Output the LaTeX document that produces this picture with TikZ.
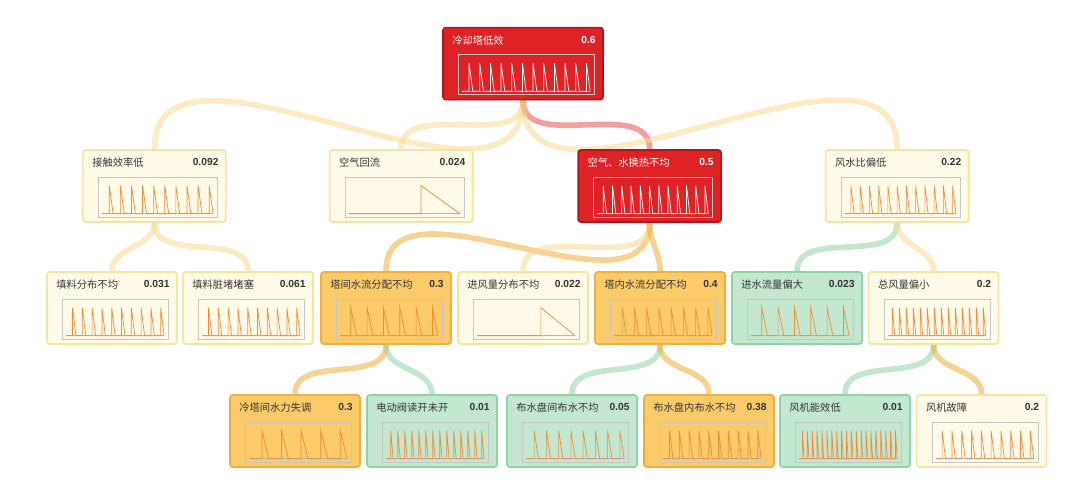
\documentclass[tikz,border=0pt]{standalone}
\usepackage{fontspec}
\setmainfont{Liberation Sans}
\newfontfamily\cjk{Noto Sans CJK SC}
\usetikzlibrary{calc,backgrounds}
\definecolor{hotred}{HTML}{DE2226}
\definecolor{hotline}{HTML}{B5121B}
\definecolor{warmfill}{HTML}{FBCB6A}
\definecolor{warmline}{HTML}{F1AE3A}
\definecolor{palefill}{HTML}{FFFBE8}
\definecolor{paleline}{HTML}{F8E3A0}
\definecolor{coolfill}{HTML}{C3E8CF}
\definecolor{coolline}{HTML}{8FD2A5}
\definecolor{sparkline}{HTML}{EE8A3C}
\tikzset{
    card/.style={
           rectangle, rounded corners=2pt,
           line width=1.2pt,
           minimum height=1.8cm,
           inner sep=0pt},
    hot/.style={card, fill=hotred, draw=hotline},
    warm/.style={card, fill=warmfill, draw=warmline},
    pale/.style={card, fill=palefill, draw=paleline},
    cool/.style={card, fill=coolfill, draw=coolline},
    ttl/.style={inner sep=0pt, font=\fontsize{7.3}{9}\selectfont},
    axis/.style={draw=gray!45, line width=0.3pt},
    link/.style={line width=4pt, line cap=round, opacity=0.55},
}
\def\whitename{white}
% one card: name, style, x, y, width, title, value, teeth, colour
\newcommand\card[9]{%
    \node[#2, minimum width=#5cm] (#1) at (#3,#4) {};
    \node[ttl, anchor=north west, text=#9] (#1-t) at ($(#1.north west)+(0.25,-0.22)$) {\cjk #6};
    \node[ttl, anchor=north east, text=#9] (#1-v) at ($(#1.north east)+(-0.2,-0.22)$) {\bfseries #7};
    \def\txtname{#9}%
    \ifx\txtname\whitename\def\sparkcol{white}\else\def\sparkcol{sparkline}\fi
    \begin{scope}[shift={($(#1.south west)+(0.4,0.15)$)}]
        \draw[axis] (0,0) rectangle (#5-0.6,1.0);
        \pgfmathsetmacro\dx{(#5-0.8)/#8}
        \draw[gray!60, line width=0.4pt] (0.1,0.08) -- (#5-0.7,0.08);
        \draw[\sparkcol, line width=0.5pt] (0.1,0.08)
            \foreach \i in {1,...,#8}{ -- ++(\dx*0.65,0) -- ++(0,0.7) -- ++(\dx*0.35,-0.7)};
    \end{scope}}

\begin{document}
\begin{tikzpicture}
    \useasboundingbox (0,0) rectangle (27,-11.975);

    % root
    \card{root}{hot}{13.075}{-1.59}{4}{冷却塔低效}{0.6}{12}{white}

    % first level
    \card{contact}{pale}{3.86}{-4.65}{3.575}{接触效率低}{0.092}{10}{black!80}
    \card{backflow}{pale}{10.03}{-4.65}{3.575}{空气回流}{0.024}{1}{black!80}
    \card{exchange}{hot}{16.24}{-4.65}{3.575}{空气、水换热不均}{0.5}{12}{white}
    \card{ratio}{pale}{22.43}{-4.65}{3.575}{风水比偏低}{0.22}{12}{black!80}

    % second level
    \card{fill}{pale}{2.8}{-7.7}{3.25}{填料分布不均}{0.031}{10}{black!80}
    \card{clog}{pale}{6.2}{-7.7}{3.25}{填料脏堵堵塞}{0.061}{10}{black!80}
    \card{between}{warm}{9.65}{-7.7}{3.25}{塔间水流分配不均}{0.3}{6}{black!80}
    \card{inlet}{pale}{13.075}{-7.7}{3.25}{进风量分布不均}{0.022}{1}{black!80}
    \card{within}{warm}{16.5}{-7.7}{3.25}{塔内水流分配不均}{0.4}{8}{black!80}
    \card{inflow}{cool}{19.925}{-7.7}{3.25}{进水流量偏大}{0.023}{6}{black!80}
    \card{airflow}{pale}{23.34}{-7.7}{3.25}{总风量偏小}{0.2}{14}{black!80}

    % third level
    \card{hydraulic}{warm}{7.375}{-10.775}{3.25}{冷塔间水力失调}{0.3}{5}{black!80}
    \card{valve}{cool}{10.8}{-10.775}{3.25}{电动阀读开未开}{0.01}{14}{black!80}
    \card{trays}{cool}{14.3}{-10.775}{3.25}{布水盘间布水不均}{0.05}{8}{black!80}
    \card{tray}{warm}{17.725}{-10.775}{3.25}{布水盘内布水不均}{0.38}{10}{black!80}
    \card{fan}{cool}{21.125}{-10.775}{3.25}{风机能效低}{0.01}{20}{black!80}
    \card{fault}{pale}{24.54}{-10.775}{3.25}{风机故障}{0.2}{10}{black!80}

    \begin{scope}[on background layer]
        \draw[link, paleline!90!orange] (root.south) to[out=-90, in=90] (contact.north);
        \draw[link, paleline!90!orange] (root.south) to[out=-90, in=90] (backflow.north);
        \draw[link, hotred!80] (root.south) to[out=-90, in=90] (exchange.north);
        \draw[link, paleline!90!orange] (root.south) to[out=-90, in=90] (ratio.north);
        \draw[link, paleline!90!orange] (contact.south) to[out=-90, in=90] (fill.north);
        \draw[link, paleline!90!orange] (contact.south) to[out=-90, in=90] (clog.north);
        \draw[link, warmline] (exchange.south) to[out=-90, in=90] (between.north);
        \draw[link, paleline!90!orange] (exchange.south) to[out=-90, in=90] (inlet.north);
        \draw[link, warmline] (exchange.south) to[out=-90, in=90] (within.north);
        \draw[link, coolline] (ratio.south) to[out=-90, in=90] (inflow.north);
        \draw[link, paleline!90!orange] (ratio.south) to[out=-90, in=90] (airflow.north);
        \draw[link, warmline] (between.south) to[out=-90, in=90] (hydraulic.north);
        \draw[link, coolline] (between.south) to[out=-90, in=90] (valve.north);
        \draw[link, coolline] (within.south) to[out=-90, in=90] (trays.north);
        \draw[link, warmline] (within.south) to[out=-90, in=90] (tray.north);
        \draw[link, coolline] (airflow.south) to[out=-90, in=90] (fan.north);
        \draw[link, warmline] (airflow.south) to[out=-90, in=90] (fault.north);
    \end{scope}
\end{tikzpicture}
\end{document}
